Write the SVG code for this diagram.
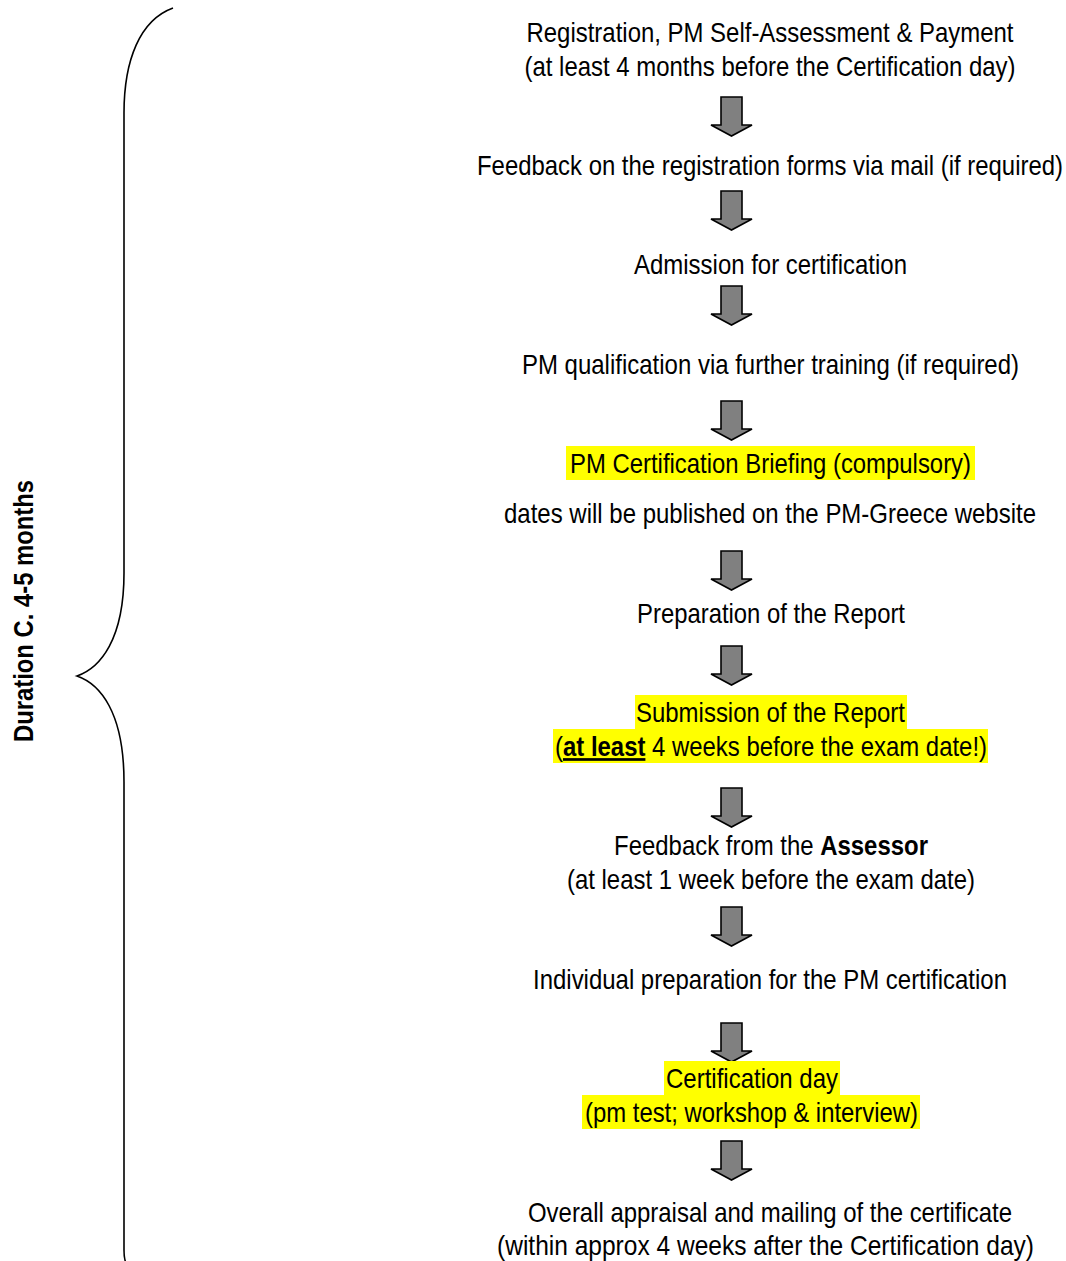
<svg xmlns="http://www.w3.org/2000/svg" xmlns:xlink="http://www.w3.org/1999/xlink" width="1066" height="1261" viewBox="0 0 1066 1261">
<style>
.t{font-family:"Liberation Sans Narrow","Liberation Sans",Arial,sans-serif;font-size:27px;fill:#000;text-anchor:middle}
.b{font-weight:bold}
.hl{fill:#ffff00}
.arr{fill:#808080;stroke:#000;stroke-width:1.6;stroke-linejoin:miter}
.brace{fill:none;stroke:#000;stroke-width:1.6}
</style>
<defs>
<path id="arrow" class="arr" d="M721,0 L742,0 L742,28 L752,28 L731.5,39 L711,28 L721,28 Z"/>
</defs>
<rect width="1066" height="1261" fill="#fff"/>
<g id="brace-group">
<path class="brace" d="M173,8 C140,20 124,60 124,113 L124,573 C124,640 100,668 77,676 C100,684 124,712 124,782 L124,1250 C124,1256 125,1261 126,1263"/>
<text class="t b" transform="translate(33,611) rotate(-90)" font-size="22" textLength="262" lengthAdjust="spacingAndGlyphs">Duration C. 4-5 months</text>
</g>
<g id="connectors">
<use xlink:href="#arrow" href="#arrow" y="97"/>
<use xlink:href="#arrow" href="#arrow" y="191"/>
<use xlink:href="#arrow" href="#arrow" y="286"/>
<use xlink:href="#arrow" href="#arrow" y="401"/>
<use xlink:href="#arrow" href="#arrow" y="551"/>
<use xlink:href="#arrow" href="#arrow" y="646"/>
<use xlink:href="#arrow" href="#arrow" y="788"/>
<use xlink:href="#arrow" href="#arrow" y="907"/>
<use xlink:href="#arrow" href="#arrow" y="1023"/>
<use xlink:href="#arrow" href="#arrow" y="1141"/>
</g>
<g id="node-registration">
<text class="t" transform="translate(770,42) scale(0.88,1)" textLength="553.4" lengthAdjust="spacingAndGlyphs">Registration, PM Self-Assessment &amp; Payment</text>
<text class="t" transform="translate(770,76) scale(0.88,1)" textLength="558" lengthAdjust="spacingAndGlyphs">(at least 4 months before the Certification day)</text>
</g>
<g id="node-feedback-forms">
<text class="t" transform="translate(770,175) scale(0.88,1)" textLength="665.9" lengthAdjust="spacingAndGlyphs">Feedback on the registration forms via mail (if required)</text>
</g>
<g id="node-admission">
<text class="t" transform="translate(770.5,274) scale(0.88,1)" textLength="310.2" lengthAdjust="spacingAndGlyphs">Admission for certification</text>
</g>
<g id="node-qualification">
<text class="t" transform="translate(770.5,374) scale(0.88,1)" textLength="564.8" lengthAdjust="spacingAndGlyphs">PM qualification via further training (if required)</text>
</g>
<g id="node-briefing">
<rect class="hl" x="566" y="446" width="409" height="34"/>
<text class="t" transform="translate(770.5,473) scale(0.88,1)" textLength="455.7" lengthAdjust="spacingAndGlyphs">PM Certification Briefing (compulsory)</text>
<text class="t" transform="translate(770,523) scale(0.88,1)" textLength="604.5" lengthAdjust="spacingAndGlyphs">dates will be published on the PM-Greece website</text>
</g>
<g id="node-preparation">
<text class="t" transform="translate(771,623) scale(0.88,1)" textLength="304.5" lengthAdjust="spacingAndGlyphs">Preparation of the Report</text>
</g>
<g id="node-submission">
<rect class="hl" x="635" y="695" width="272" height="34"/>
<rect class="hl" x="553" y="729" width="435" height="34"/>
<text class="t" transform="translate(770.5,722) scale(0.88,1)" textLength="305.7" lengthAdjust="spacingAndGlyphs">Submission of the Report</text>
<text class="t" transform="translate(771,756) scale(0.88,1)" textLength="490.9" lengthAdjust="spacingAndGlyphs">(<tspan class="b" text-decoration="underline">at least</tspan> 4 weeks before the exam date!)</text>
</g>
<g id="node-feedback-assessor">
<text class="t" transform="translate(771,855) scale(0.88,1)" textLength="356.8" lengthAdjust="spacingAndGlyphs">Feedback from the <tspan class="b">Assessor</tspan></text>
<text class="t" transform="translate(771,889) scale(0.88,1)" textLength="463.6" lengthAdjust="spacingAndGlyphs">(at least 1 week before the exam date)</text>
</g>
<g id="node-individual">
<text class="t" transform="translate(770,989) scale(0.88,1)" textLength="538.6" lengthAdjust="spacingAndGlyphs">Individual preparation for the PM certification</text>
</g>
<g id="node-certification-day">
<rect class="hl" x="664" y="1061" width="176" height="34"/>
<rect class="hl" x="582" y="1095" width="338" height="34"/>
<text class="t" transform="translate(752,1088) scale(0.88,1)" textLength="195.5" lengthAdjust="spacingAndGlyphs">Certification day</text>
<text class="t" transform="translate(751.5,1122) scale(0.88,1)" textLength="378.4" lengthAdjust="spacingAndGlyphs">(pm test; workshop &amp; interview)</text>
</g>
<g id="node-appraisal">
<text class="t" transform="translate(770,1222) scale(0.88,1)" textLength="550" lengthAdjust="spacingAndGlyphs">Overall appraisal and mailing of the certificate</text>
<text class="t" transform="translate(765.5,1255) scale(0.88,1)" textLength="610.2" lengthAdjust="spacingAndGlyphs">(within approx 4 weeks after the Certification day)</text>
</g>
</svg>
